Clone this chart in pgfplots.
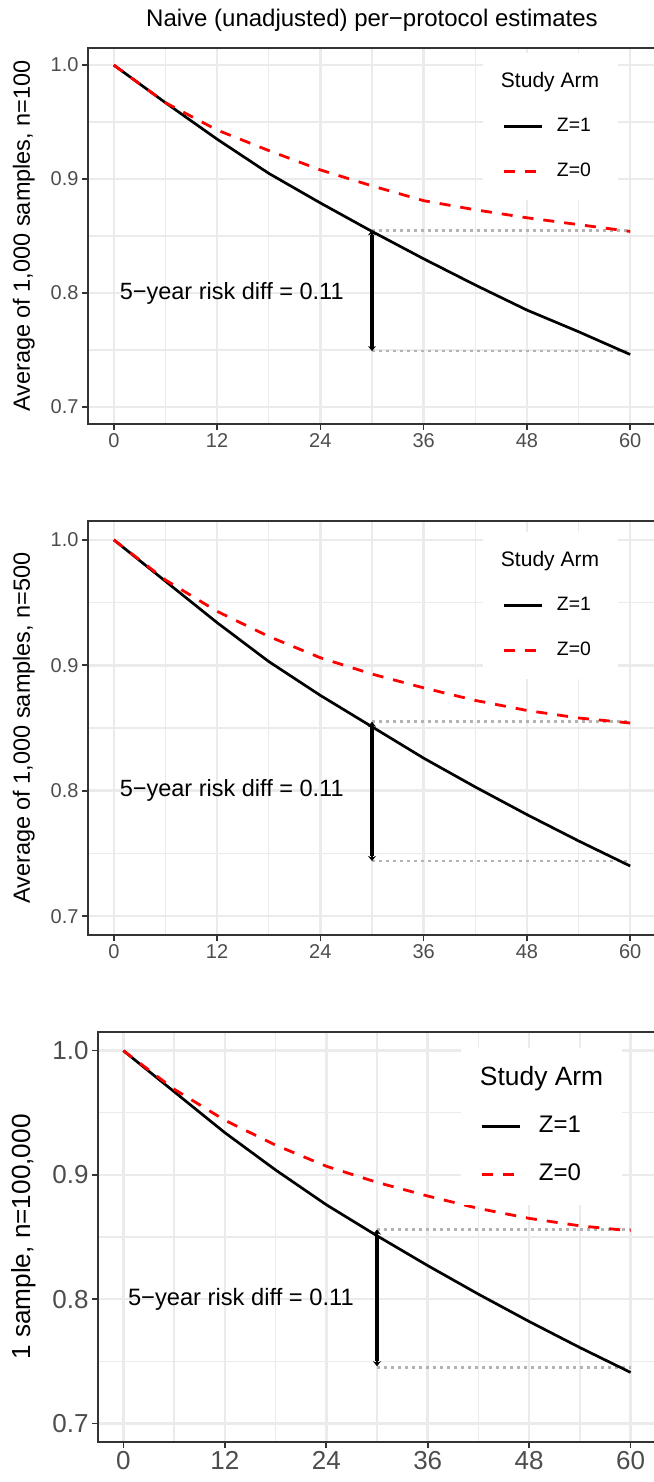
\documentclass[border=0pt]{standalone}
\usepackage{fontspec}
\setmainfont{Liberation Sans}
\usepackage{pgfplots}
\pgfplotsset{compat=1.18}
\usetikzlibrary{arrows.meta}
\definecolor{grid92}{HTML}{EBEBEB}
\definecolor{ink20}{HTML}{333333}
\definecolor{ink30}{HTML}{4D4D4D}
\definecolor{dotgray}{HTML}{B3B3B3}

\pgfplotsset{
  kmpanel/.style={
    scale only axis,
    xmin=-3, xmax=63, ymin=0.685, ymax=1.015,
    xtick={0,12,24,36,48,60}, xticklabels={0,12,24,36,48,60},
    ytick={0.7,0.8,0.9,1.0}, yticklabels={0.7,0.8,0.9,1.0},
    minor xtick={6,18,30,42,54}, minor ytick={0.75,0.85,0.95},
    grid=both,
    major grid style={grid92, line width=2.5pt},
    minor grid style={grid92, line width=1.3pt},
    axis line style={ink20, line width=1.6pt},
    major tick style={ink20, line width=1.6pt},
    minor tick length=0pt,
    tick align=outside, major tick length=6pt,
    xtick pos=bottom, ytick pos=left,
    ticklabel style={text=ink30},
    /pgf/number format/assume math mode=true,
    legend cell align=left,
    legend image code/.code={\draw[##1] (0pt,0pt) -- (38pt,0pt);},
  },
  zone/.style={red, line width=2.8pt, dash pattern=on 11pt off 10pt},
  zone1/.style={black, line width=2.7pt},
  refline/.style={forget plot, dotgray, line width=2.7pt, dash pattern=on 2.7pt off 4.3pt},
  shaft/.style={forget plot, draw=black, line width=3.2pt, solid},
  heads/.style={forget plot, draw=black, line width=2.7pt, solid, <->, >={Stealth[length=5pt,width=8pt]}},
}

\begin{document}
\begin{tikzpicture}

\node[font=\fontsize{24}{28}\selectfont] at (372pt,-20pt) {Naive (unadjusted) per−protocol estimates};

% panel 1: n=100
\begin{axis}[kmpanel, at={(88pt,-424pt)}, anchor=south west,
  width=568pt, height=376pt,
  ticklabel style={font=\fontsize{20}{24}\selectfont},
  ylabel={Average of 1,000 samples, n=100},
  ylabel style={font=\fontsize{23.5}{28}\selectfont, at={(axis description cs:-0.113,0.5)}, anchor=center},
  legend style={at={(axis description cs:0.6954,0.9867)}, anchor=north west,
    fill=white, draw=none, font=\fontsize{19.4}{23}\selectfont,
    inner xsep=19pt, inner ysep=20pt, column sep=14pt, row sep=26.5pt,
    nodes={inner sep=0pt, text height=14pt, text depth=4pt}},
]
\addlegendimage{empty legend}
\addlegendentry{\hspace{-56pt}\fontsize{21}{25}\selectfont Study Arm}
\addplot[refline] coordinates {(30,0.855) (60,0.855)};
\addplot[refline] coordinates {(30,0.749) (60,0.749)};
\addplot[zone1] coordinates {(0,1) (6,0.967) (12,0.935) (18,0.905) (24,0.879) (30,0.854) (36,0.830) (42,0.807) (48,0.785) (54,0.766) (60,0.746)};
\addlegendentry{Z=1}
\addplot[zone] coordinates {(0,1) (6,0.967) (12,0.943) (18,0.925) (24,0.908) (30,0.894) (36,0.881) (42,0.873) (48,0.866) (54,0.860) (60,0.854)};
\addlegendentry{Z=0}
\addplot[shaft] coordinates {(30,0.851) (30,0.753)};
\addplot[heads] coordinates {(30,0.855) (30,0.749)};
\node[font=\fontsize{23.5}{28}\selectfont] at (axis cs:13.7,0.8) {5−year risk diff = 0.11};
\end{axis}

% panel 2: n=500
\begin{axis}[kmpanel, at={(88pt,-935pt)}, anchor=south west,
  width=568pt, height=414pt,
  ticklabel style={font=\fontsize{20}{24}\selectfont},
  ylabel={Average of 1,000 samples, n=500},
  ylabel style={font=\fontsize{23.5}{28}\selectfont, at={(axis description cs:-0.113,0.5)}, anchor=center},
  legend style={at={(axis description cs:0.6954,0.9734)}, anchor=north west,
    fill=white, draw=none, font=\fontsize{19.4}{23}\selectfont,
    inner xsep=19pt, inner ysep=20pt, column sep=14pt, row sep=26.5pt,
    nodes={inner sep=0pt, text height=14pt, text depth=4pt}},
]
\addlegendimage{empty legend}
\addlegendentry{\hspace{-56pt}\fontsize{21}{25}\selectfont Study Arm}
\addplot[refline] coordinates {(30,0.855) (60,0.855)};
\addplot[refline] coordinates {(30,0.744) (60,0.744)};
\addplot[zone1] coordinates {(0,1) (6,0.967) (12,0.934) (18,0.903) (24,0.876) (30,0.851) (36,0.826) (42,0.803) (48,0.781) (54,0.760) (60,0.740)};
\addlegendentry{Z=1}
\addplot[zone] coordinates {(0,1) (6,0.968) (12,0.943) (18,0.923) (24,0.906) (30,0.893) (36,0.882) (42,0.872) (48,0.864) (54,0.858) (60,0.854)};
\addlegendentry{Z=0}
\addplot[shaft] coordinates {(30,0.851) (30,0.748)};
\addplot[heads] coordinates {(30,0.855) (30,0.744)};
\node[font=\fontsize{23.5}{28}\selectfont] at (axis cs:13.7,0.8) {5−year risk diff = 0.11};
\end{axis}

% panel 3: n=100,000
\begin{axis}[kmpanel, at={(98pt,-1442pt)}, anchor=south west,
  width=558pt, height=410pt,
  ticklabel style={font=\fontsize{26}{30}\selectfont},
  ylabel={1 sample, n=100,000},
  ylabel style={font=\fontsize{26.2}{31}\selectfont, at={(axis description cs:-0.133,0.5)}, anchor=center},
  legend style={at={(axis description cs:0.6505,0.961)}, anchor=north west,
    fill=white, draw=none, font=\fontsize{24}{28}\selectfont,
    inner xsep=19pt, inner ysep=20pt, column sep=18pt, row sep=25.5pt,
    nodes={inner sep=0pt, text height=17pt, text depth=5pt}},
]
\addlegendimage{empty legend}
\addlegendentry{\hspace{-59pt}\fontsize{26.4}{31}\selectfont Study Arm}
\addplot[refline] coordinates {(30,0.856) (60,0.856)};
\addplot[refline] coordinates {(30,0.745) (60,0.745)};
\addplot[zone1] coordinates {(0,1) (6,0.967) (12,0.934) (18,0.904) (24,0.876) (30,0.851) (36,0.827) (42,0.804) (48,0.782) (54,0.761) (60,0.741)};
\addlegendentry{Z=1}
\addplot[zone] coordinates {(0,1) (6,0.969) (12,0.944) (18,0.924) (24,0.907) (30,0.894) (36,0.883) (42,0.873) (48,0.865) (54,0.859) (60,0.855)};
\addlegendentry{Z=0}
\addplot[shaft] coordinates {(30,0.852) (30,0.750)};
\addplot[heads] coordinates {(30,0.856) (30,0.746)};
\node[font=\fontsize{23.7}{28}\selectfont] at (axis cs:13.9,0.8) {5−year risk diff = 0.11};
\end{axis}

\pgfresetboundingbox
\path[use as bounding box] (0pt,0pt) rectangle (653pt,-1482pt);
\end{tikzpicture}
\end{document}
